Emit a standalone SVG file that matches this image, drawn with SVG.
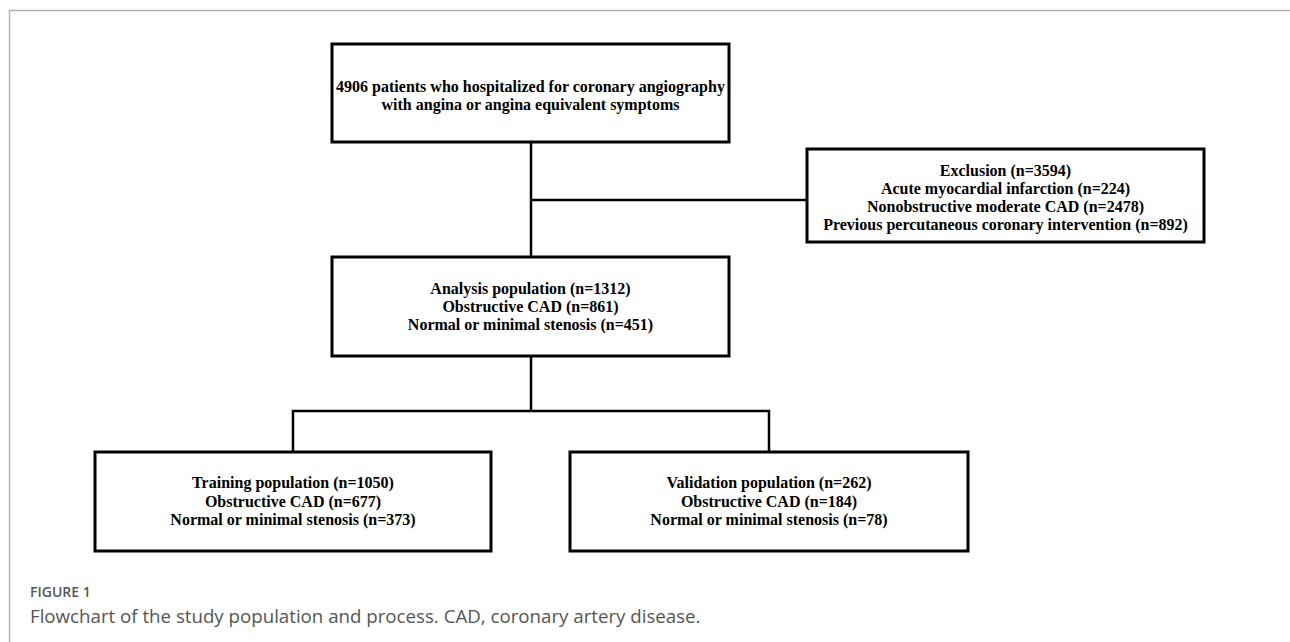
<svg xmlns="http://www.w3.org/2000/svg" width="1290" height="642" viewBox="0 0 1290 642">
<style>
.box{fill:#fff;stroke:#000;stroke-width:3}
.t{font-family:"Liberation Serif","Times New Roman",serif;font-weight:bold;font-size:16px;fill:#000;text-anchor:middle}
.c{fill:none;stroke:#000;stroke-width:2.5}
.frame{fill:none;stroke:#b3b3b3;stroke-width:1.5}
.fig{font-family:"Open Sans","Noto Sans",sans-serif;font-weight:600;font-size:14px;fill:#555}
.cap{font-family:"Open Sans","Noto Sans",sans-serif;font-size:18.7px;fill:#555}
</style>
<rect width="1290" height="642" fill="#fff"/>
<path class="frame" d="M9.5,642 V10.5 H1290"/>
<g id="connectors">
<path class="c" d="M531,142 V257"/>
<path class="c" d="M531,200 H807"/>
<path class="c" d="M531,356 V411"/>
<path class="c" d="M293,452 V411 H769 V452"/>
</g>
<g id="n1">
<rect class="box" x="332" y="44" width="397" height="98"/>
<text class="t" x="530.5" y="92">4906 patients who hospitalized for coronary angiography</text>
<text class="t" x="530.5" y="110">with angina or angina equivalent symptoms</text>
</g>
<g id="n2">
<rect class="box" x="807" y="149" width="397" height="93"/>
<text class="t" x="1005.5" y="176">Exclusion (n=3594)</text>
<text class="t" x="1005.5" y="194">Acute myocardial infarction (n=224)</text>
<text class="t" x="1005.5" y="212">Nonobstructive moderate CAD (n=2478)</text>
<text class="t" x="1005.5" y="230">Previous percutaneous coronary intervention (n=892)</text>
</g>
<g id="n3">
<rect class="box" x="332" y="257" width="397" height="99"/>
<text class="t" x="530.5" y="294">Analysis population (n=1312)</text>
<text class="t" x="530.5" y="312">Obstructive CAD (n=861)</text>
<text class="t" x="530.5" y="330">Normal or minimal stenosis (n=451)</text>
</g>
<g id="n4">
<rect class="box" x="95" y="452" width="396" height="99"/>
<text class="t" x="293" y="488">Training population (n=1050)</text>
<text class="t" x="293" y="507">Obstructive CAD (n=677)</text>
<text class="t" x="293" y="525">Normal or minimal stenosis (n=373)</text>
</g>
<g id="n5">
<rect class="box" x="570" y="452" width="398" height="99"/>
<text class="t" x="769" y="488">Validation population (n=262)</text>
<text class="t" x="769" y="507">Obstructive CAD (n=184)</text>
<text class="t" x="769" y="525">Normal or minimal stenosis (n=78)</text>
</g>
<text class="fig" x="30" y="597">FIGURE 1</text>
<text class="cap" x="30" y="623">Flowchart of the study population and process. CAD, coronary artery disease.</text>
</svg>
